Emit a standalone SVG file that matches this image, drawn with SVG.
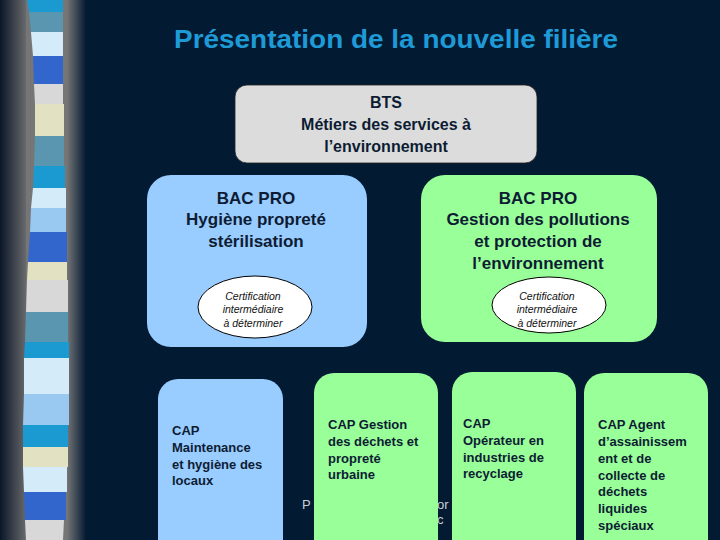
<svg xmlns="http://www.w3.org/2000/svg" width="720" height="540" viewBox="0 0 720 540">
<defs>
<linearGradient id="gl" x1="0" y1="0" x2="1" y2="0">
<stop offset="0" stop-color="#0a1628"/><stop offset="1" stop-color="#767676"/>
</linearGradient>
<linearGradient id="gr" x1="0" y1="0" x2="1" y2="0">
<stop offset="0" stop-color="#767676"/><stop offset="0.2" stop-color="#767676"/><stop offset="1" stop-color="#031a33"/>
</linearGradient>
<style>
.t{font-family:"Liberation Sans",Arial,sans-serif;font-weight:bold;fill:#0d1c33}
.big{font-size:17px;text-anchor:middle}
.mid{font-size:16px;text-anchor:middle}
.cap{font-size:13px}
.cert{font-family:"Liberation Sans",Arial,sans-serif;font-style:italic;font-size:10.5px;fill:#111;text-anchor:middle}
.blue{fill:#99ccff}
.green{fill:#99ff99}
.ell{fill:#fff;stroke:#000;stroke-width:1}
.foot{font-family:"Liberation Sans",Arial,sans-serif;font-size:13px;fill:#c8d0d8}
.title{font-family:"Liberation Sans",Arial,sans-serif;font-weight:bold;font-size:26px;fill:#1e9bd7}
</style>
</defs>
<rect width="720" height="540" fill="#031a33"/>
<rect x="0" y="0" width="30" height="540" fill="url(#gl)"/>
<rect x="26" y="0" width="10" height="540" fill="#767676"/>
<rect x="62" y="0" width="24" height="540" fill="url(#gr)"/>
<g id="stripes">
<polygon points="27,0 63,0 63,12 29,12" fill="#1a9ad0"/>
<polygon points="29,12 63,12 63,32 31,32" fill="#5a96b0"/>
<polygon points="31,32 63,32 63,56 33,56" fill="#d4ecfa"/>
<polygon points="33,56 63,56 63,84 34,84" fill="#3366cc"/>
<polygon points="34,84 63,84 63,104 35,104" fill="#d8d8d8"/>
<polygon points="35,104 64,104 64,136 35,136" fill="#e2e2c2"/>
<polygon points="35,136 64,136 64,166 34,166" fill="#5a96b0"/>
<polygon points="34,166 65,166 65,188 33,188" fill="#1a9ad0"/>
<polygon points="33,188 66,188 66,208 31,208" fill="#d4ecfa"/>
<polygon points="31,208 66,208 66,232 30,232" fill="#99c8f0"/>
<polygon points="30,232 67,232 67,262 28,262" fill="#3366cc"/>
<polygon points="28,262 67,262 67,280 27,280" fill="#e2e2c2"/>
<polygon points="27,280 68,280 68,312 26,312" fill="#d8d8d8"/>
<polygon points="26,312 68,312 68,342 25,342" fill="#5a96b0"/>
<polygon points="25,342 69,342 69,358 24,358" fill="#1a9ad0"/>
<polygon points="24,358 69,358 69,394 24,394" fill="#d4ecfa"/>
<polygon points="24,394 69,394 69,425 23,425" fill="#99c8f0"/>
<polygon points="23,425 68,425 68,447 23,447" fill="#1a9ad0"/>
<polygon points="23,447 68,447 68,467 23,467" fill="#e2e2c2"/>
<polygon points="23,467 67,467 67,492 24,492" fill="#d4ecfa"/>
<polygon points="24,492 66,492 66,520 25,520" fill="#3366cc"/>
<polygon points="25,520 64,520 63,540 26,540" fill="#d8d8d8"/>
</g>
<text class="title" x="174" y="48" textLength="444" lengthAdjust="spacingAndGlyphs">Présentation de la nouvelle filière</text>
<text class="foot" x="302" y="509">P</text>
<text class="foot" x="437" y="509">or</text>
<text class="foot" x="437" y="524">c</text>
<g id="connectors"/>
<g id="bts">
<rect x="235" y="85" width="302" height="78" rx="12" fill="#dcdcdc" stroke="#222" stroke-width="0.8"/>
<text class="t mid" x="386" y="108">BTS</text>
<text class="t mid" x="386" y="130">Métiers des services à</text>
<text class="t mid" x="386" y="152">l’environnement</text>
</g>
<g id="bacpro-hygiene">
<rect class="blue" x="147" y="175" width="220" height="172" rx="24"/>
<text class="t big" x="256" y="204">BAC PRO</text>
<text class="t big" x="256" y="225">Hygiène propreté</text>
<text class="t big" x="256" y="247">stérilisation</text>
<ellipse class="ell" cx="255" cy="307" rx="57" ry="31"/>
<text class="cert" x="253" y="300">Certification</text>
<text class="cert" x="253" y="313">intermédiaire</text>
<text class="cert" x="253" y="327">à déterminer</text>
</g>
<g id="bacpro-gestion">
<rect class="green" x="421" y="175" width="236" height="167" rx="24"/>
<text class="t big" x="538" y="204">BAC PRO</text>
<text class="t big" x="538" y="225">Gestion des pollutions</text>
<text class="t big" x="538" y="247">et protection de</text>
<text class="t big" x="538" y="269">l’environnement</text>
<ellipse class="ell" cx="549" cy="305" rx="57" ry="28"/>
<text class="cert" x="547" y="300">Certification</text>
<text class="cert" x="547" y="313">intermédiaire</text>
<text class="cert" x="547" y="327">à déterminer</text>
</g>
<g id="cap-maintenance">
<rect class="blue" x="158" y="379" width="125" height="180" rx="20"/>
<text class="t cap" x="172" y="435">CAP</text>
<text class="t cap" x="172" y="452">Maintenance</text>
<text class="t cap" x="172" y="469">et hygiène des</text>
<text class="t cap" x="172" y="485">locaux</text>
</g>
<g id="cap-gestion-dechets">
<rect class="green" x="314" y="373" width="124" height="186" rx="20"/>
<text class="t cap" x="328" y="429">CAP Gestion</text>
<text class="t cap" x="328" y="446">des déchets et</text>
<text class="t cap" x="328" y="463">propreté</text>
<text class="t cap" x="328" y="479">urbaine</text>
</g>
<g id="cap-operateur">
<rect class="green" x="452" y="372" width="124" height="187" rx="20"/>
<text class="t cap" x="463" y="428">CAP</text>
<text class="t cap" x="463" y="445">Opérateur en</text>
<text class="t cap" x="463" y="462">industries de</text>
<text class="t cap" x="463" y="478">recyclage</text>
</g>
<g id="cap-agent">
<rect class="green" x="584" y="373" width="124" height="186" rx="20"/>
<text class="t cap" x="598" y="429">CAP Agent</text>
<text class="t cap" x="598" y="446">d’assainissem</text>
<text class="t cap" x="598" y="463">ent et de</text>
<text class="t cap" x="598" y="480">collecte de</text>
<text class="t cap" x="598" y="496">déchets</text>
<text class="t cap" x="598" y="513">liquides</text>
<text class="t cap" x="598" y="530">spéciaux</text>
</g>
</svg>
